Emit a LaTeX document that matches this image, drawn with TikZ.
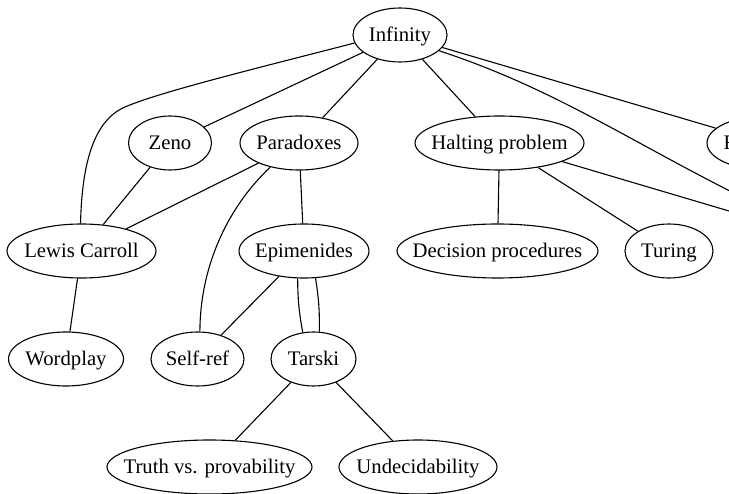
\documentclass[tikz,border=0pt]{standalone}
\usepackage{fontspec}
\setmainfont{Liberation Serif}
\usetikzlibrary{shapes.geometric}
\tikzset{
  topic/.style={draw, ellipse, line width=1.1pt, inner sep=0pt, minimum height=54pt,
    text height=18pt, text depth=4.3pt,
    execute at begin node={\hbox to 0pt\bgroup\hss},
    execute at end node={\hss\egroup}},
  link/.style={line width=1.1pt}
}
\begin{document}
\begin{tikzpicture}[x=1pt,y=-1pt,font=\fontsize{20.7}{24}\selectfont]
\useasboundingbox (0,0) rectangle (729,494);
\clip (0,0) rectangle (729,494);
\node[topic, minimum width=94pt] (infinity) at (400,35) {Infinity};
\node[topic, minimum width=83pt] (zeno) at (170,143) {Zeno};
\node[topic, minimum width=118pt] (paradoxes) at (299,143) {Paradoxes};
\node[topic, minimum width=169pt] (halting) at (499.5,143) {Halting problem};
\node[topic, minimum width=118pt, label={[anchor=base west, inner sep=0pt, xshift=17pt, yshift=-6.85pt]west:F}] (fnode) at (766,143) {};
\node[topic, minimum width=149pt] (lewis) at (81.5,251) {Lewis Carroll};
\node[topic, minimum width=130pt] (epimenides) at (304,251) {Epimenides};
\node[topic, minimum width=201pt] (decision) at (497.5,251) {Decision procedures};
\node[topic, minimum width=88pt] (turing) at (669,251) {Turing};
\coordinate (hidden) at (864,251);
\node[topic, minimum width=115pt] (wordplay) at (66,359) {Wordplay};
\node[topic, minimum width=93pt] (selfref) at (197.5,359) {Self-ref};
\node[topic, minimum width=85pt] (tarski) at (313.5,359) {Tarski};
\node[topic, minimum width=205pt] (truth) at (209.5,467) {Truth vs. provability};
\node[topic, minimum width=158pt] (undecid) at (418,467) {Undecidability};
\draw[link] (infinity.190) .. controls (250,70) and (160,92) .. (125,107)
  .. controls (95,120) and (82,160) .. (lewis.92);
\draw[link] (infinity) -- (zeno);
\draw[link] (infinity) -- (paradoxes);
\draw[link] (infinity) -- (halting);
\draw[link] (infinity) -- (fnode);
\draw[link] (infinity.-22) .. controls (590,100) and (680,180) .. (hidden);
\draw[link] (zeno) -- (lewis);
\draw[link] (paradoxes) -- (lewis);
\draw[link] (paradoxes.-140) .. controls (225,210) and (200,270) .. (selfref.85);
\draw[link] (paradoxes) -- (epimenides);
\draw[link] (halting) -- (decision);
\draw[link] (halting) -- (turing);
\draw[link] (halting) -- (hidden);
\draw[link] (lewis) -- (wordplay);
\draw[link] (epimenides) -- (selfref);
\draw[link] (epimenides.-103) to[bend right=5] (tarski.112);
\draw[link] (epimenides.-67) to[bend left=5] (tarski.78);
\draw[link] (tarski) -- (truth);
\draw[link] (tarski) -- (undecid);
\end{tikzpicture}
\end{document}
